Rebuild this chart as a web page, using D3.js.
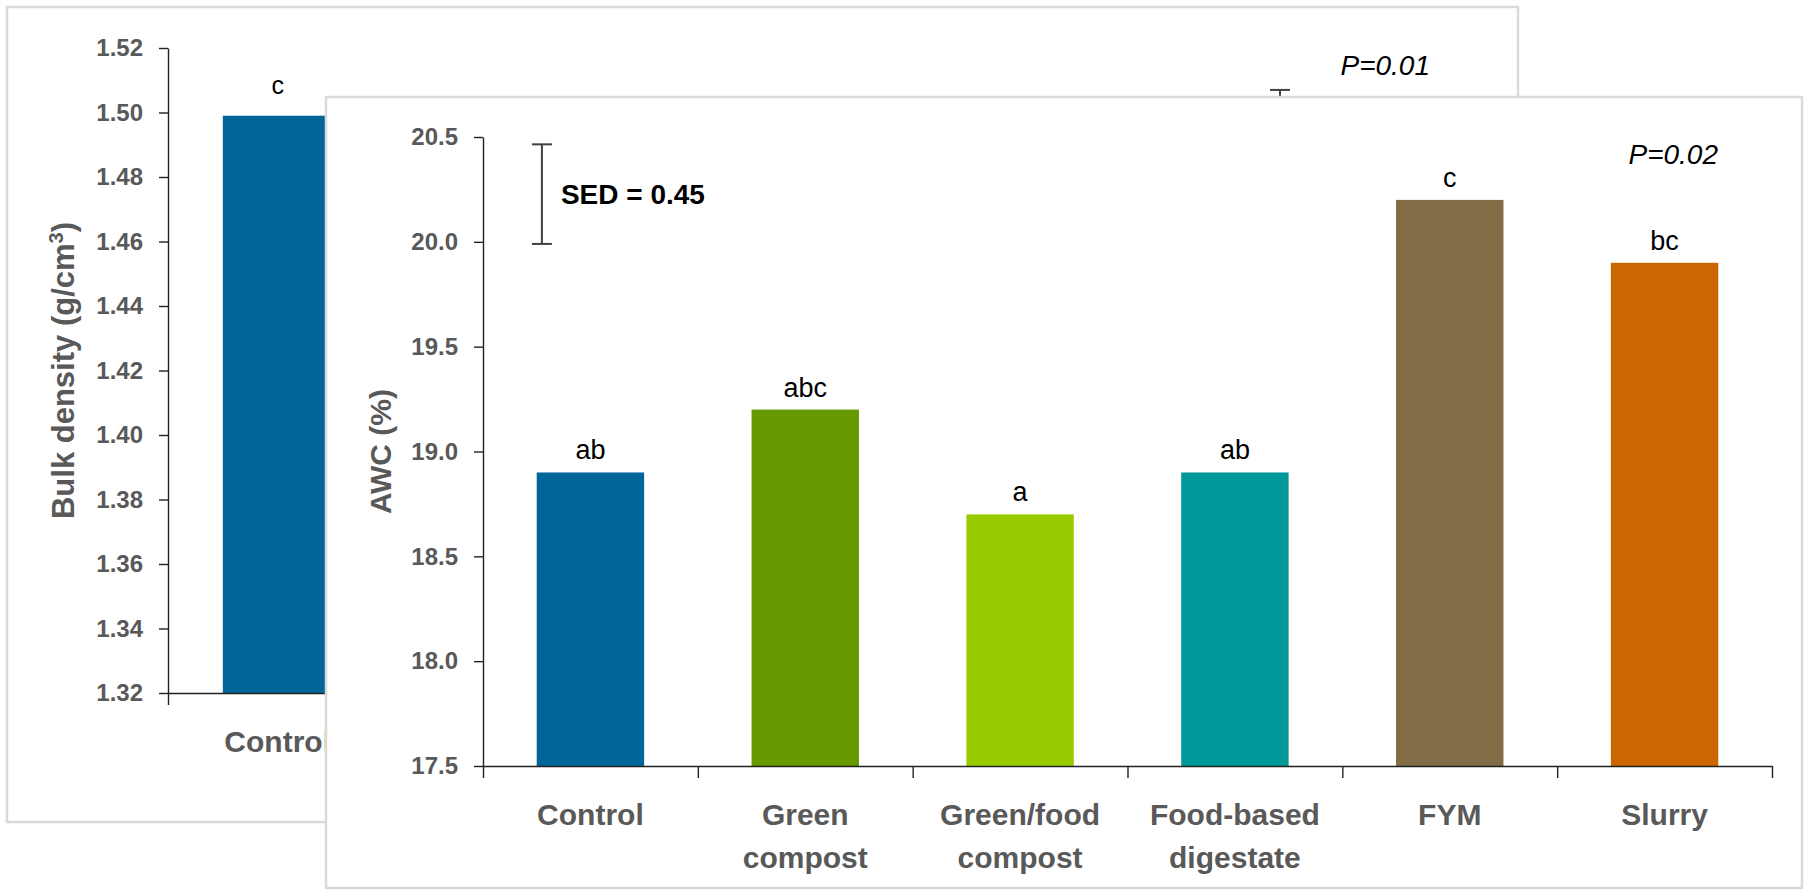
<!DOCTYPE html>
<html>
<head>
<meta charset="utf-8">
<script src="https://cdn.jsdelivr.net/npm/d3@7"></script>
<style>
  body { margin: 0; background: #fff; }
  svg { display: block; font-family: "Liberation Sans", Arial, sans-serif; }
</style>
</head>
<body>
<div id="chart"></div>
<script>
// categories shared by both panels
const categories = ["Control", "Green compost", "Green/food compost", "Food-based digestate", "FYM", "Slurry"];
const categoryLines = [["Control"], ["Green", "compost"], ["Green/food", "compost"], ["Food-based", "digestate"], ["FYM"], ["Slurry"]];
const barColors = ["#006699", "#669900", "#99cc00", "#009999", "#826c46", "#cc6600"];

// front panel: available water capacity
const awcValues = [18.9, 19.2, 18.7, 18.9, 20.2, 19.9];
const awcLetters = ["ab", "abc", "a", "ab", "c", "bc"];
const awcTicks = [17.5, 18.0, 18.5, 19.0, 19.5, 20.0, 20.5];
const awcSed = [19.99, 20.465];
const awcSedLabel = "SED = 0.45";
const awcP = "P=0.02";

// back panel: bulk density (only the Control bar is visible)
const bulkCategories = ["Control"];
const bulkValues = [1.499];
const bulkLetters = ["c"];
const bulkTicks = [1.32, 1.34, 1.36, 1.38, 1.40, 1.42, 1.44, 1.46, 1.48, 1.50, 1.52];
const bulkSed = [1.48, 1.507];
const bulkP = "P=0.01";

const W = 1808, H = 890;
const grey = "#595959";

const svg = d3.select("#chart").append("svg")
  .attr("width", W)
  .attr("height", H);

svg.append("rect").attr("width", W).attr("height", H).attr("fill", "#fff");

function drawPanel(opts) {
  const g = svg.append("g");
  const p = opts.plot;

  g.append("rect")
    .attr("x", opts.box[0]).attr("y", opts.box[1])
    .attr("width", opts.box[2]).attr("height", opts.box[3])
    .attr("fill", "#fff")
    .attr("stroke", "#d9d9d9")
    .attr("stroke-width", 2.5);

  const x = d3.scaleBand()
    .domain(categories)
    .range([p.left, p.right])
    .paddingInner(0.5)
    .paddingOuter(0.25);
  const y = d3.scaleLinear()
    .domain(opts.domain)
    .range([p.bottom, p.top]);

  const data = opts.cats.map((c, i) => ({ cat: c, value: opts.values[i], letter: opts.letters[i] }));

  // bars
  g.selectAll(".bar")
    .data(data)
    .enter()
    .append("rect")
    .attr("x", (d) => x(d.cat))
    .attr("y", (d) => y(d.value))
    .attr("width", x.bandwidth())
    .attr("height", (d) => y(opts.domain[0]) - y(d.value))
    .attr("fill", (d) => barColors[categories.indexOf(d.cat)]);

  g.selectAll(".letter")
    .data(data)
    .enter()
    .append("text")
    .attr("x", (d) => x(d.cat) + x.bandwidth() / 2)
    .attr("y", (d) => y(d.value) - opts.letterGap)
    .attr("text-anchor", "middle")
    .attr("font-size", opts.letterSize)
    .attr("fill", "#000")
    .text((d) => d.letter);

  // y axis
  const yAxis = g.append("g")
    .attr("transform", `translate(${p.left},0)`)
    .call(d3.axisLeft(y)
      .tickValues(opts.ticks)
      .tickFormat(d3.format(opts.fmt))
      .tickSize(9)
      .tickPadding(16)
      .tickSizeOuter(0));
  yAxis.selectAll("text")
    .attr("font-size", 24)
    .attr("font-weight", "bold")
    .attr("font-family", "Liberation Sans, Arial, sans-serif")
    .attr("fill", grey);
  yAxis.selectAll("line, path").attr("stroke", "#222").attr("stroke-width", 1.4);

  // x axis with ticks on category boundaries
  const edge = d3.scaleLinear().domain([0, categories.length]).range([p.left, p.right]);
  const xAxis = g.append("g")
    .attr("transform", `translate(0,${p.bottom})`)
    .call(d3.axisBottom(edge)
      .tickValues(d3.range(categories.length + 1))
      .tickFormat("")
      .tickSize(12)
      .tickSizeOuter(0));
  xAxis.selectAll("line, path").attr("stroke", "#222").attr("stroke-width", 1.4);

  // category labels, only for the categories this panel shows
  const labels = g.selectAll(".cat")
    .data(opts.cats)
    .enter()
    .append("text")
    .attr("text-anchor", "middle")
    .attr("font-size", 30)
    .attr("font-weight", "bold")
    .attr("fill", grey);
  labels.each(function (d) {
    const t = d3.select(this);
    categoryLines[categories.indexOf(d)].forEach((line, j) => {
      t.append("tspan")
        .attr("x", x(d) + x.bandwidth() / 2)
        .attr("y", p.bottom + 59 + j * 43)
        .text(line);
    });
  });

  // y axis title
  const title = g.append("text")
    .attr("transform", `translate(${opts.titleX},${(p.top + p.bottom) / 2}) rotate(-90)`)
    .attr("text-anchor", "middle")
    .attr("font-size", opts.titleSize)
    .attr("font-weight", "bold")
    .attr("fill", grey);
  opts.title(title);

  // SED bar
  const sx = p.left + (p.right - p.left) * opts.sedPos;
  const sed = g.append("g").attr("stroke", "#404040").attr("stroke-width", 2);
  sed.append("line").attr("x1", sx).attr("x2", sx).attr("y1", y(opts.sed[0])).attr("y2", y(opts.sed[1]));
  [opts.sed[0], opts.sed[1]].forEach((v) => {
    sed.append("line").attr("x1", sx - 10).attr("x2", sx + 10).attr("y1", y(v)).attr("y2", y(v));
  });
  if (opts.sedLabel) {
    g.append("text")
      .attr("x", sx + 19)
      .attr("y", y((opts.sed[0] + opts.sed[1]) / 2) + 10)
      .attr("font-size", 28)
      .attr("font-weight", "bold")
      .attr("fill", "#000")
      .text(opts.sedLabel);
  }

  // P value
  g.append("text")
    .attr("x", p.right - 54)
    .attr("y", opts.pY)
    .attr("text-anchor", "end")
    .attr("font-size", 28)
    .attr("font-style", "italic")
    .attr("fill", "#000")
    .text(opts.pText);
}

// back panel
drawPanel({
  box: [7, 7, 1511, 815],
  plot: { left: 168, right: 1484, top: 48, bottom: 693 },
  domain: [1.32, 1.52],
  ticks: bulkTicks,
  fmt: ".2f",
  cats: bulkCategories,
  values: bulkValues,
  letters: bulkLetters,
  letterSize: 25,
  letterGap: 22,
  titleX: 74,
  titleSize: 31,
  title: (t) => {
    t.append("tspan").text("Bulk density (g/cm");
    t.append("tspan").attr("dy", -11).attr("font-size", 20).text("3");
    t.append("tspan").attr("dy", 11).text(")");
  },
  sed: bulkSed,
  sedPos: 0.845,
  sedLabel: null,
  pText: bulkP,
  pY: 75
});

// front panel
drawPanel({
  box: [326, 97, 1476, 791],
  plot: { left: 483, right: 1772, top: 137, bottom: 766 },
  domain: [17.5, 20.5],
  ticks: awcTicks,
  fmt: ".1f",
  cats: categories,
  values: awcValues,
  letters: awcLetters,
  letterSize: 27,
  letterGap: 13,
  titleX: 391,
  titleSize: 30,
  title: (t) => t.text("AWC (%)"),
  sed: awcSed,
  sedPos: 0.0457,
  sedLabel: awcSedLabel,
  pText: awcP,
  pY: 164
});
</script>
</body>
</html>
